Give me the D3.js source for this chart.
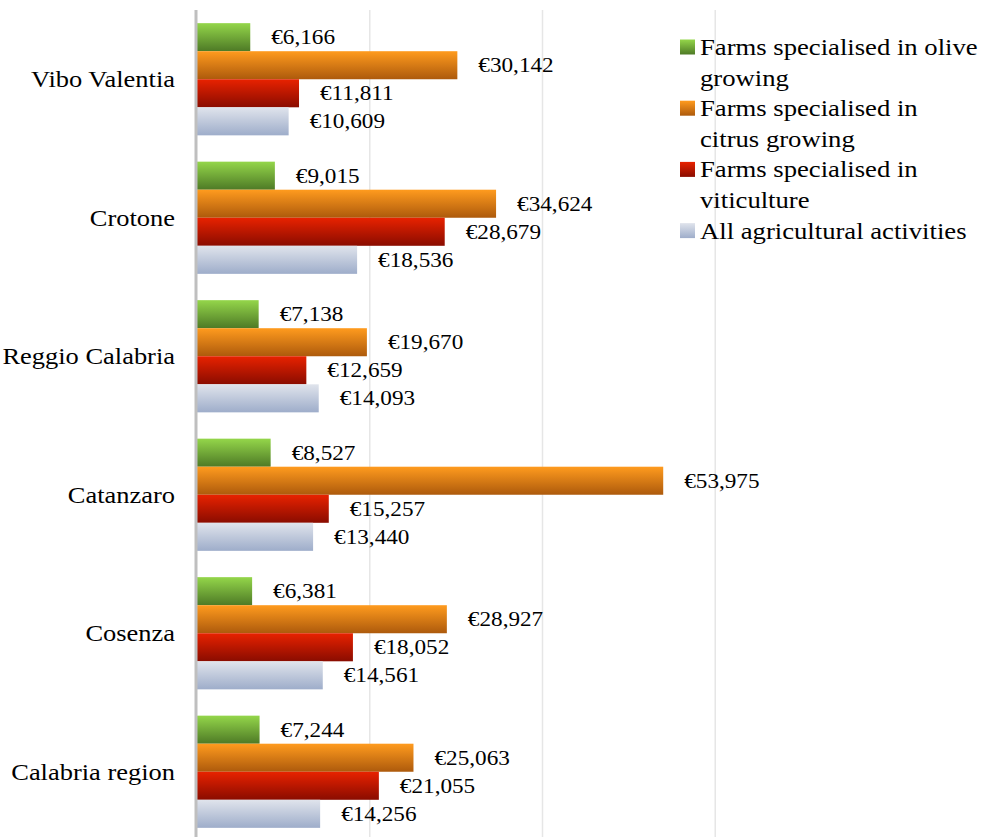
<!DOCTYPE html>
<html>
<head>
<meta charset="utf-8">
<script src="https://cdn.jsdelivr.net/npm/d3@7"></script>
<style>
  body { margin: 0; background: #fff; }
  svg { display: block; }
  svg text { font-family: "Liberation Serif", "Times New Roman", Times, serif; }
</style>
</head>
<body>
<svg id="chart" width="981" height="837"></svg>
<script>
// Data
const provinces = ["Vibo Valentia", "Crotone", "Reggio Calabria", "Catanzaro", "Cosenza", "Calabria region"];
const seriesNames = ["Farms specialised in olive growing", "Farms specialised in citrus growing",
                     "Farms specialised in viticulture", "All agricultural activities"];
const legendLines = [["Farms specialised in olive", "growing"], ["Farms specialised in", "citrus growing"],
                     ["Farms specialised in", "viticulture"], ["All agricultural activities"]];
const olive    = [6166, 9015, 7138, 8527, 6381, 7244];
const citrus   = [30142, 34624, 19670, 53975, 28927, 25063];
const viti     = [11811, 28679, 12659, 15257, 18052, 21055];
const allAgri  = [10609, 18536, 14093, 13440, 14561, 14256];
const gridTicks = [20000, 40000, 60000];

const seriesValues = [olive, citrus, viti, allAgri];
const gradColors = [["#94d64a", "#4e7a26"], ["#ff9b1e", "#ad5a0c"], ["#e82200", "#8a0c00"], ["#e0e4ec", "#9eadca"]];

const svg = d3.select("#chart");
const stretch = 1.16;   // text in the picture is slightly wide
const x0 = 197;

const x = d3.scaleLinear().domain([0, 80000]).range([x0, x0 + 691]);
const y = d3.scaleBand().domain(provinces).range([10, 841]).paddingInner(0.19).paddingOuter(0.095);
const ySub = d3.scaleBand().domain(d3.range(seriesNames.length)).range([0, y.bandwidth()]);

// gradients
const defs = svg.append("defs");
gradColors.forEach((c, i) => {
  const g = defs.append("linearGradient").attr("id", "g" + i)
    .attr("x1", 0).attr("y1", 0).attr("x2", 0).attr("y2", 1);
  g.append("stop").attr("offset", "0%").attr("stop-color", c[0]);
  g.append("stop").attr("offset", "100%").attr("stop-color", c[1]);
});

// gridlines
svg.append("g").selectAll("line").data(gridTicks).join("line")
  .attr("x1", d => x(d)).attr("x2", d => x(d))
  .attr("y1", 10).attr("y2", 837)
  .attr("stroke", "#e6e6e6").attr("stroke-width", 1.5);

// bars
const groups = svg.append("g").selectAll("g").data(provinces).join("g")
  .attr("transform", d => `translate(0,${y(d)})`);

seriesValues.forEach((vals, si) => {
  groups.append("rect")
    .attr("x", x(0))
    .attr("y", ySub(si))
    .attr("width", (d, i) => x(vals[i]) - x(0))
    .attr("height", ySub.bandwidth())
    .attr("fill", `url(#g${si})`);

  groups.append("text")
    .attr("transform", (d, i) => `translate(${x(vals[i]) + 21},${ySub(si) + ySub.bandwidth() / 2}) scale(${stretch},1)`)
    .attr("dy", "0.35em")
    .attr("font-size", 20)
    .attr("fill", "#000")
    .text((d, i) => "€" + d3.format(",")(vals[i]));
});

// axis line
svg.append("line")
  .attr("x1", x0 - 1).attr("x2", x0 - 1).attr("y1", 10).attr("y2", 837)
  .attr("stroke", "#bfbfbf").attr("stroke-width", 3);

// category labels
svg.append("g").selectAll("text").data(provinces).join("text")
  .attr("transform", d => `translate(175,${y(d) + y.bandwidth() / 2}) scale(${stretch},1)`)
  .attr("dy", "0.35em")
  .attr("text-anchor", "end")
  .attr("font-size", 22.8)
  .text(d => d);

// legend
const legend = svg.append("g");
let line = 0;
const lineStep = 30.6;
legendLines.forEach((lines, i) => {
  const cy = 47 + line * lineStep;
  legend.append("rect")
    .attr("x", 680).attr("y", cy - 7.5)
    .attr("width", 15).attr("height", 15)
    .attr("fill", `url(#g${i})`);
  lines.forEach((t, j) => {
    legend.append("text")
      .attr("transform", `translate(700,${cy + j * lineStep}) scale(${stretch},1)`)
      .attr("dy", "0.35em")
      .attr("font-size", 23)
      .text(t);
  });
  line += lines.length;
});
</script>
</body>
</html>
